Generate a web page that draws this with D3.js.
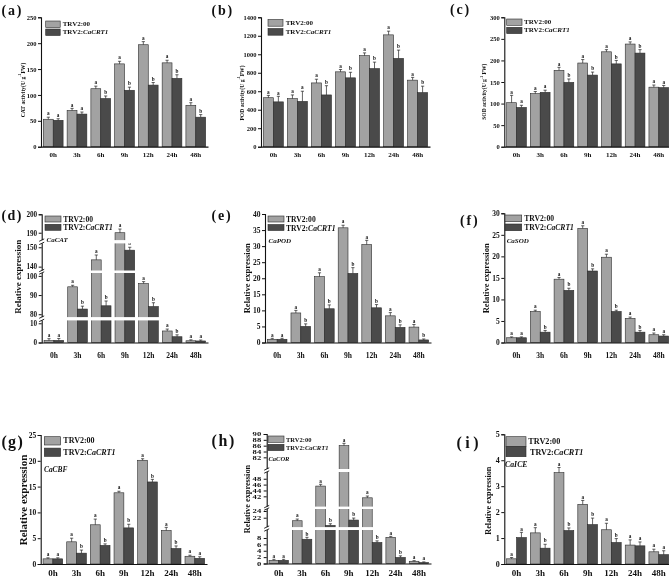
<!DOCTYPE html>
<html><head><meta charset="utf-8">
<script src="https://cdn.jsdelivr.net/npm/d3@7"></script>
<style>
body{margin:0;background:#fff}
svg{display:block;will-change:transform}
text{font-family:"Liberation Serif","Times New Roman",serif;font-weight:bold;fill:#111}
</style>
</head><body>
<svg id="chart" width="669" height="576"></svg>
<script>
// ---------- DATA ----------
const times = ["0h","3h","6h","9h","12h","24h","48h"];
const seriesNames = ["TRV2:00", "TRV2:CaCRT1"];

// (a) CAT activity
const catLight = [53, 70, 112, 160, 197, 162, 80];
const catDark  = [51, 63, 93, 109, 119, 132, 57];
const catLightErr = [4, 4, 5, 5, 6, 5, 5];
const catDarkErr  = [3, 4, 5, 6, 5, 7, 5];
const catLetters  = ["a","a","b","b","b","b","b"];
const catTicks = [0, 50, 100, 150, 200, 250];

// (b) POD activity
const podLight = [530, 520, 690, 810, 985, 1210, 720];
const podDark  = [485, 490, 560, 745, 845, 955, 585];
const podLightErr = [25, 40, 40, 25, 30, 40, 30];
const podDarkErr  = [60, 110, 100, 60, 70, 90, 70];
const podLetters  = ["a","a","b","b","b","b","b"];
const podTicks = [0, 200, 400, 600, 800, 1000, 1200, 1400];

// (c) SOD activity
const sodLight = [102, 123, 177, 194, 220, 238, 138];
const sodDark  = [91, 126, 149, 166, 192, 217, 137];
const sodLightErr = [17, 5, 7, 8, 5, 5, 5];
const sodDarkErr  = [5, 5, 8, 7, 8, 8, 5];
const sodLetters  = ["a","a","b","b","b","b","a"];
const sodTicks = [0, 50, 100, 150, 200, 250, 300];

// (d) CaCAT expression
const cacatLight = [1.0, 94.3, 143.5, 190, 96, 6.0, 0.9];
const cacatDark  = [1.1, 82.7, 84.4, 148.5, 84, 3.0, 0.8];
const cacatLightErr = [1, 0.8, 2.5, 2, 1, 1, 0.5];
const cacatDarkErr  = [1, 1.5, 2.5, 1.5, 2, 1, 0.5];
const cacatLetters  = ["a","b","b","b","b","b","a"];
const cacatTicks = [0, 10, 80, 90, 100, 140, 150, 190, 200];

// (e) CaPOD expression
const capodLight = [1.0, 9.2, 20.5, 35.7, 30.5, 8.3, 4.8];
const capodDark  = [1.0, 5.0, 10.5, 21.5, 10.8, 4.7, 0.8];
const capodLightErr = [0.3, 0.8, 1.2, 0.8, 1.3, 1, 0.8];
const capodDarkErr  = [0.3, 0.8, 1.2, 1.8, 1, 0.8, 0.3];
const capodLetters  = ["a","b","b","b","b","b","b"];
const capodTicks = [0, 5, 10, 15, 20, 25, 30, 35, 40];

// (f) CaSOD expression
const casodLight = [1.1, 7.2, 14.7, 26.5, 19.8, 5.6, 1.8];
const casodDark  = [1.1, 2.4, 12.1, 16.6, 7.2, 2.4, 1.5];
const casodLightErr = [0.2, 0.3, 0.4, 0.6, 0.7, 0.3, 0.4];
const casodDarkErr  = [0.2, 0.4, 0.5, 0.5, 0.3, 0.4, 0.3];
const casodLetters  = ["a","b","b","b","b","b","a"];
const casodTicks = [0, 5, 10, 15, 20, 25, 30];

// (g) CaCBF expression
const cacbfLight = [1.0, 4.3, 7.6, 13.8, 20.1, 6.5, 1.5];
const cacbfDark  = [1.0, 2.1, 3.6, 7.0, 15.9, 3.0, 1.1];
const cacbfLightErr = [0.2, 0.7, 1.1, 0.3, 0.3, 0.6, 0.2];
const cacbfDarkErr  = [0.2, 0.6, 0.3, 0.7, 0.5, 0.5, 0.3];
const cacbfLetters  = ["a","b","b","b","b","b","a"];
const cacbfTicks = [0, 5, 10, 15, 20, 25];

// (h) CaCOR expression
const cacorLight = [1.0, 21.1, 45.5, 86, 41.5, 8.2, 0.7];
const cacorDark  = [1.0, 7.6, 19.7, 21.3, 6.6, 1.9, 0.3];
const cacorLightErr = [0.3, 0.5, 0.6, 0.8, 0.6, 0.3, 0.2];
const cacorDarkErr  = [0.3, 0.6, 0.5, 0.6, 0.5, 0.5, 0.2];
const cacorLetters  = ["a","b","b","b","b","b","a"];
const cacorTicks = [0, 2, 4, 6, 8, 22, 24, 42, 44, 46, 48, 82, 84, 86, 88, 90];

// (i) CaICE expression
const caiceLight = [0.2, 1.2, 3.52, 2.3, 1.32, 0.73, 0.47];
const caiceDark  = [1.02, 0.61, 1.29, 1.52, 0.83, 0.7, 0.36];
const caiceLightErr = [0.05, 0.2, 0.2, 0.15, 0.25, 0.2, 0.1];
const caiceDarkErr  = [0.2, 0.15, 0.1, 0.25, 0.15, 0.15, 0.15];
const caiceLetters  = ["a","b","b","b","b","a","a"];
const caiceTicks = [0, 1, 2, 3, 4, 5];

// ---------- STYLE / LAYOUT ----------
const LIGHT = "#a2a2a2", DARK = "#4a4a4a", EDGE = "#2b2b2b";
const svg = d3.select("#chart");

const panels = [
  {lab:"(a)", lx:1.5, ly:15, lfs:14, ls:0.13, light:catLight, dark:catDark, eL:catLightErr, eD:catDarkErr, letters:catLetters, ticks:catTicks,
   dom:[0,250], rng:[146.7,17.3], x0:41, x1:208, tfs:6.5, xfs:7, xBase:157,
   yl:{x:22.7, y:90, fs:5.6, parts:["CAT activity(U g","-1","FW)"]},
   lg:{x:45.7, y:21, w:14.5, h:6.5, step:8, tx:62.7, fs:7}},
  {lab:"(b)", lx:211.5, ly:15, lfs:14, ls:0.13, light:podLight, dark:podDark, eL:podLightErr, eD:podDarkErr, letters:podLetters, ticks:podTicks,
   dom:[0,1400], rng:[146.7,17.3], x0:261, x1:430, tfs:6.5, xfs:7, xBase:157,
   yl:{x:241.7, y:93, fs:5.6, parts:["POD activity(U g","-1","FW)"]},
   lg:{x:268, y:19.5, w:15, h:6.7, step:9, tx:285.7, fs:7}},
  {lab:"(c)", lx:450, ly:14, lfs:14, ls:0.13, light:sodLight, dark:sodDark, eL:sodLightErr, eD:sodDarkErr, letters:sodLetters, ticks:sodTicks,
   dom:[0,300], rng:[146.7,17.3], x0:504.3, x1:671, tfs:6.5, xfs:7, xBase:157,
   yl:{x:484, y:91.7, fs:5.6, parts:["SOD activity(U g","-1"," FW)"]},
   lg:{x:506.7, y:19, w:15.3, h:6.3, step:8.3, tx:524, fs:7}},
  {lab:"(d)", lx:1.5, ly:219.5, lfs:14, ls:0.1, light:cacatLight, dark:cacatDark, eL:cacatLightErr, eD:cacatDarkErr, letters:cacatLetters, ticks:cacatTicks,
   dom:[0,11.5,78.5,101.5,138,152,186,200], rng:[342.5,320.4,317.1,273,270.5,243.4,240.1,214.3],
   x0:41.7, x1:208, tfs:7.2, xfs:7.5, xBase:357.5,
   yl:{x:18.3, y:276.7, fs:9, parts:["Relative expression"]},
   lg:{x:45, y:216, w:16, h:6, step:8.3, tx:63.3, fs:7.6}, gene:{t:"CaCAT", x:46.5, y:241.5, fs:7}},
  {lab:"(e)", lx:211.5, ly:219.5, lfs:14, ls:0.13, light:capodLight, dark:capodDark, eL:capodLightErr, eD:capodDarkErr, letters:capodLetters, ticks:capodTicks,
   dom:[0,40], rng:[342.5,214], x0:265, x1:431, tfs:7.5, xfs:7.5, xBase:357.5,
   yl:{x:246.7, y:278.3, fs:8.5, parts:["Relative expression"]},
   lg:{x:268, y:216, w:16, h:6, step:8.5, tx:286, fs:7.6}, gene:{t:"CaPOD", x:268.5, y:242.5, fs:7}},
  {lab:"(f)", lx:460, ly:225, lfs:14, ls:0.13, light:casodLight, dark:casodDark, eL:casodLightErr, eD:casodDarkErr, letters:casodLetters, ticks:casodTicks,
   dom:[0,30], rng:[342.5,213.3], x0:504.3, x1:671, tfs:7.5, xfs:7.5, xBase:357.5,
   yl:{x:485.7, y:278.3, fs:8.5, parts:["Relative expression"]},
   lg:{x:505, y:215, w:16.7, h:6.7, step:9, tx:524.3, fs:7.6}, gene:{t:"CaSOD", x:506.7, y:243, fs:7}},
  {lab:"(g)", lx:1.5, ly:446.5, lfs:16, ls:0.08, light:cacbfLight, dark:cacbfDark, eL:cacbfLightErr, eD:cacbfDarkErr, letters:cacbfLetters, ticks:cacbfTicks,
   dom:[0,25], rng:[564,435], x0:40.7, x1:207, tfs:7.5, xfs:9, xBase:575.5,
   yl:{x:23.3, y:500, fs:11, parts:["Relative expression"]},
   lg:{x:44.3, y:436.7, w:16.4, h:8.3, step:11.4, tx:63.3, fs:8}, gene:{t:"CaCBF", x:44, y:472, fs:7.4}},
  {lab:"(h)", lx:211.5, ly:446, lfs:16, ls:0.1, light:cacorLight, dark:cacorDark, eL:cacorLightErr, eD:cacorDarkErr, letters:cacorLetters, ticks:cacorTicks,
   dom:[0,10.5,19.2,24.6,38.5,50.3,78,90], rng:[563.5,530,527.1,509,506.6,472,469,434],
   x0:266.7, x1:431, tfs:7.5, tsy:0.7, xfs:9, xBase:575.5,
   yl:{x:247.3, y:499, fs:8.3, parts:["Relative expression"]},
   lg:{x:268, y:436, w:16, h:6.3, step:8.3, tx:286, fs:6.5}, gene:{t:"CaCOR", x:268.5, y:461, fs:6.5}},
  {lab:"(i)", lx:456.5, ly:448, lfs:16, ls:0.22, light:caiceLight, dark:caiceDark, eL:caiceLightErr, eD:caiceDarkErr, letters:caiceLetters, ticks:caiceTicks,
   dom:[0,5], rng:[564,434.3], x0:504.3, x1:671, tfs:8, xfs:9, xBase:575.5,
   yl:{x:488.3, y:500.7, fs:8.3, parts:["Relative expression"]},
   lg:{x:506, y:436.7, w:20, h:10, step:10, tx:528.3, tx2:530, fs:8.2}, gene:{t:"CaICE", x:505, y:466.5, fs:7.8}}
];

function drawPanel(p){
  const g = svg.append("g");
  const y = d3.scaleLinear().domain(p.dom).range(p.rng);
  const x = d3.scaleBand().domain(times).range([p.x0, p.x1]).paddingInner(0.17).paddingOuter(0.1);
  const xs = d3.scaleBand().domain([0,1]).range([0, x.bandwidth()]);
  const series = [
    {vals:p.light, err:p.eL, letters:times.map(()=>"a"), fill:LIGHT},
    {vals:p.dark,  err:p.eD, letters:p.letters, fill:DARK}
  ];
  const y0 = y(0);
  series.forEach((s, si) => {
    const sg = g.append("g");
    sg.selectAll("rect").data(times).enter().append("rect")
      .attr("x", d => x(d) + xs(si))
      .attr("width", xs.bandwidth())
      .attr("y", (d,i) => y(s.vals[i]))
      .attr("height", (d,i) => y0 - y(s.vals[i]))
      .attr("fill", s.fill).attr("stroke", EDGE).attr("stroke-width", 0.6);
    const eg = g.append("g").attr("stroke", "#222").attr("stroke-width", 0.7);
    times.forEach((d,i) => {
      const cx = x(d) + xs(si) + xs.bandwidth()/2;
      const top = y(s.vals[i] + s.err[i]);
      eg.append("line").attr("x1", cx).attr("x2", cx).attr("y1", y(s.vals[i])).attr("y2", top);
      eg.append("line").attr("x1", cx-1.6).attr("x2", cx+1.6).attr("y1", top).attr("y2", top);
      g.append("text").attr("x", cx).attr("y", top - 1.8).attr("text-anchor","middle")
        .attr("font-size", 5.2).text(s.letters[i]);
    });
  });

  // white break bands for broken axes
  const gaps = [];
  for (let k = 1; k + 1 < p.dom.length; k += 2) gaps.push([p.rng[k+1], p.rng[k]]);
  gaps.forEach(([t, b]) => {
    g.append("rect").attr("x", p.x0 - 4).attr("y", t).attr("width", p.x1 - p.x0 + 4)
      .attr("height", b - t).attr("fill", "#fff");
  });

  // axes
  const yAxis = d3.axisLeft(y).tickValues(p.ticks).tickSize(3).tickPadding(1.5).tickFormat(d3.format("d"));
  const ya = g.append("g").attr("transform", `translate(${p.x0},0)`).call(yAxis);
  ya.select(".domain").attr("stroke-width", 1.1).attr("stroke", "#111");
  ya.selectAll(".tick line").attr("stroke-width", 1).attr("stroke", "#111");
  const yt = ya.selectAll("text").attr("font-size", p.tfs).attr("font-family", null).attr("fill", "#111");
  if (p.tsy) yt.attr("transform", `scale(1.15,${p.tsy})`).attr("x", -5.5/1.15);

  gaps.forEach(([t, b]) => {
    g.append("rect").attr("x", p.x0 - 4).attr("y", t).attr("width", 6).attr("height", b - t).attr("fill", "#fff");
    [b, t].forEach(yy => {
      g.append("line").attr("x1", p.x0 - 2.5).attr("x2", p.x0 + 2.5)
        .attr("y1", yy + 1.2).attr("y2", yy - 1.2).attr("stroke", "#111").attr("stroke-width", 0.9);
    });
  });

  const xAxis = d3.axisBottom(x).tickSize(0).tickPadding(0);
  const xa = g.append("g").attr("transform", `translate(0,${y0})`).call(xAxis);
  xa.select(".domain").attr("stroke-width", 1.2).attr("stroke", "#111");
  xa.selectAll("text").attr("font-size", p.xfs).attr("font-family", null).attr("fill", "#111")
    .attr("dy", null).attr("y", p.xBase - y0);

  // y label
  const yl = g.append("text")
    .attr("transform", `translate(${p.yl.x},${p.yl.y}) rotate(-90)`)
    .attr("text-anchor", "middle").attr("dominant-baseline", "central")
    .attr("font-size", p.yl.fs);
  if (p.yl.parts.length === 1) yl.text(p.yl.parts[0]);
  else {
    yl.append("tspan").text(p.yl.parts[0]);
    yl.append("tspan").attr("dy", -p.yl.fs*0.4).attr("font-size", p.yl.fs*0.7).text(p.yl.parts[1]);
    yl.append("tspan").attr("dy", p.yl.fs*0.4).text(p.yl.parts[2]);
  }

  // legend
  const lg = p.lg;
  [LIGHT, DARK].forEach((c, k) => {
    g.append("rect").attr("x", lg.x).attr("y", lg.y + k*lg.step).attr("width", lg.w).attr("height", lg.h)
      .attr("fill", c).attr("stroke", EDGE).attr("stroke-width", 0.6);
    const tx = (k === 1 && lg.tx2) ? lg.tx2 : lg.tx;
    const t = g.append("text").attr("x", tx).attr("y", lg.y + k*lg.step + lg.h/2)
      .attr("dominant-baseline", "central").attr("font-size", lg.fs);
    if (k === 0) t.text(seriesNames[0]);
    else {
      const [pre, post] = seriesNames[1].split(":");
      t.append("tspan").text(pre + ":");
      t.append("tspan").attr("font-style", "italic").text(post);
    }
  });

  if (p.gene) {
    g.append("text").attr("x", p.gene.x).attr("y", p.gene.y).attr("font-size", p.gene.fs)
      .attr("font-style", "italic").text(p.gene.t);
  }

  // panel label
  g.append("text").attr("x", p.lx).attr("y", p.ly).attr("font-size", p.lfs)
    .attr("font-weight", "normal").attr("letter-spacing", p.lfs*p.ls).text(p.lab);
}

panels.forEach(drawPanel);
</script>
</body></html>
